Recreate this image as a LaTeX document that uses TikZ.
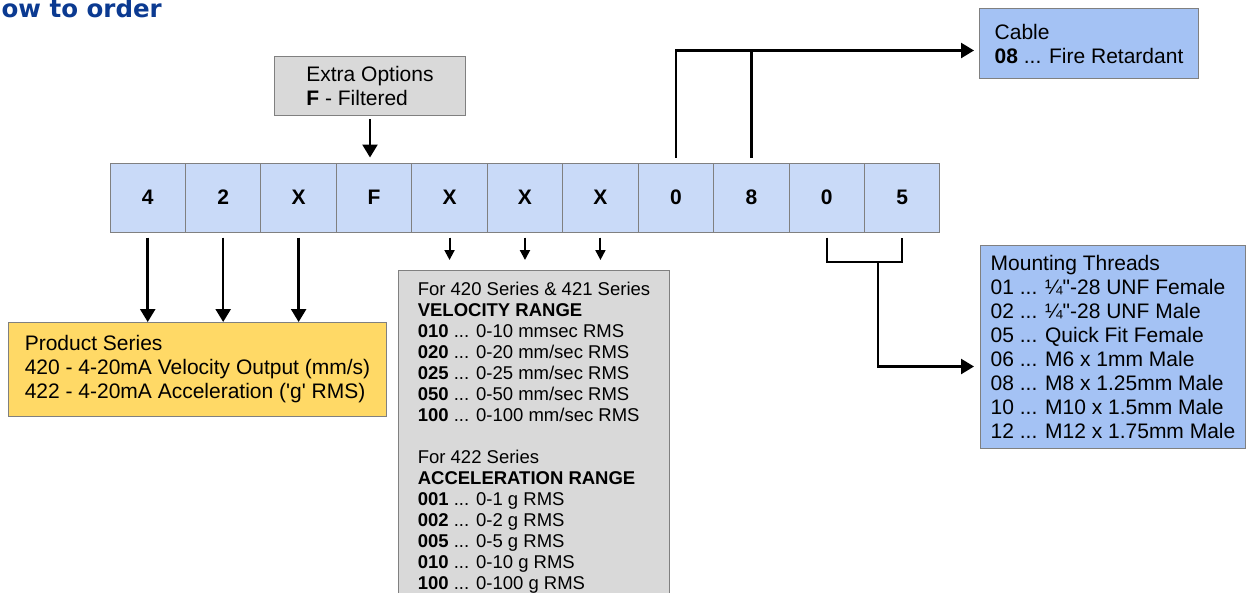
\documentclass[tikz,border=0pt]{standalone}
\usepackage{fontspec}
\setmainfont{Liberation Sans}[Ligatures=TeXOff]
\newfontfamily\titlefont{DejaVu Sans}
\usetikzlibrary{positioning,arrows.meta,calc}

\definecolor{cellblue}{HTML}{C9DAF8}
\definecolor{boxblue}{HTML}{A4C2F4}
\definecolor{boxgray}{HTML}{D9D9D9}
\definecolor{boxyellow}{HTML}{FFD966}
\definecolor{linegray}{HTML}{808080}
\definecolor{titleblue}{HTML}{0B3A91}

\tikzset{
  cell/.style={draw=linegray, line width=1pt, fill=cellblue, minimum width=75.45pt,
    minimum height=69pt, inner sep=0pt, font=\fontsize{21}{24}\selectfont\bfseries},
  infobox/.style={draw=linegray, line width=1pt, anchor=north west, align=left,
    inner sep=0pt, font=\fontsize{21}{24}\selectfont},
  thickline/.style={line width=2.5pt},
  conn/.style={thickline, -{Triangle[length=13pt,width=15pt]}},
  shortconn/.style={line width=2pt, -{Triangle[length=10pt,width=10pt]}},
}

\begin{document}
\begin{tikzpicture}[x=1pt,y=-1pt]
	\useasboundingbox (0,0) rectangle (1246,592);

	% heading, cut by the page edge
	\node[font=\titlefont\fontsize{24.5}{26}\selectfont\bfseries, text=titleblue,
	  anchor=base east, inner sep=0pt] (heading) at (162,17) {How to order};

	% code cells
	\foreach \d [count=\i from 0] in {4,2,X,F,X,X,X,0,8,0,5}
		\node[cell] (c\i) at ({110+37.73+75.45*\i},197.5) {\d};

	% option boxes
	\node[infobox, fill=boxgray, minimum width=191pt, minimum height=59pt] (extra) at (274,56)
		{Extra Options\\\textbf{F} - Filtered};
	\node[infobox, fill=boxblue, minimum width=219pt, minimum height=70pt] (cable) at (979,8)
		{Cable\\\textbf{08} ... Fire Retardant};
	\node[infobox, fill=boxyellow, minimum width=378pt, minimum height=94pt] (series) at (8,322)
		{Product Series\\420 - 4-20mA Velocity Output (mm/s)\\422 - 4-20mA Acceleration ('g' RMS)};
	\node[infobox, fill=boxblue, minimum width=265pt, minimum height=203pt] (mount) at (980,245)
		{Mounting Threads\\01 ... ¼"-28 UNF Female\\02 ... ¼"-28 UNF Male\\05 ... Quick Fit Female\\
		 06 ... M6 x 1mm Male\\08 ... M8 x 1.25mm Male\\10 ... M10 x 1.5mm Male\\12 ... M12 x 1.75mm Male};
	\node[infobox, fill=boxgray, minimum width=271pt, inner ysep=12pt,
	  font=\fontsize{18.5}{21}\selectfont] (range) at (398,270)
		{For 420 Series \& 421 Series\\\textbf{VELOCITY RANGE}\\
		 \textbf{010} ... 0-10 mmsec RMS\\\textbf{020} ... 0-20 mm/sec RMS\\
		 \textbf{025} ... 0-25 mm/sec RMS\\\textbf{050} ... 0-50 mm/sec RMS\\
		 \textbf{100} ... 0-100 mm/sec RMS\\[21pt]
		 For 422 Series\\\textbf{ACCELERATION RANGE}\\
		 \textbf{001} ... 0-1 g RMS\\\textbf{002} ... 0-2 g RMS\\
		 \textbf{005} ... 0-5 g RMS\\\textbf{010} ... 0-10 g RMS\\
		 \textbf{100} ... 0-100 g RMS\\[14pt]};

	% connectors
	\draw[conn, shorten <=3pt, shorten >=5pt] (extra.south) -- (extra.south |- c3.north);
	\foreach \i in {0,1,2}
		\draw[conn, shorten <=5pt] (c\i.south) -- (c\i.south |- series.north);
	\foreach \i in {4,5,6}
		\draw[shortconn, shorten <=5pt, shorten >=10pt] (c\i.south) -- (c\i.south |- range.north);

	\coordinate (cablebus) at ([yshift=-7pt]cable.west);
	\draw[conn, shorten <=5pt, shorten >=5pt] (c7.north) |- (cablebus);
	\draw[thickline, shorten <=5pt] (c8.north) -- (c8.north |- cablebus);

	\coordinate (mountbus) at (878,262);
	\draw[thickline, shorten <=5pt, shorten >=5pt] (c9.south) |- (mountbus) -| (c10.south);
	\draw[conn, shorten >=6pt] (mountbus) |- ([yshift=-19.5pt]mount.west);
\end{tikzpicture}
\end{document}
